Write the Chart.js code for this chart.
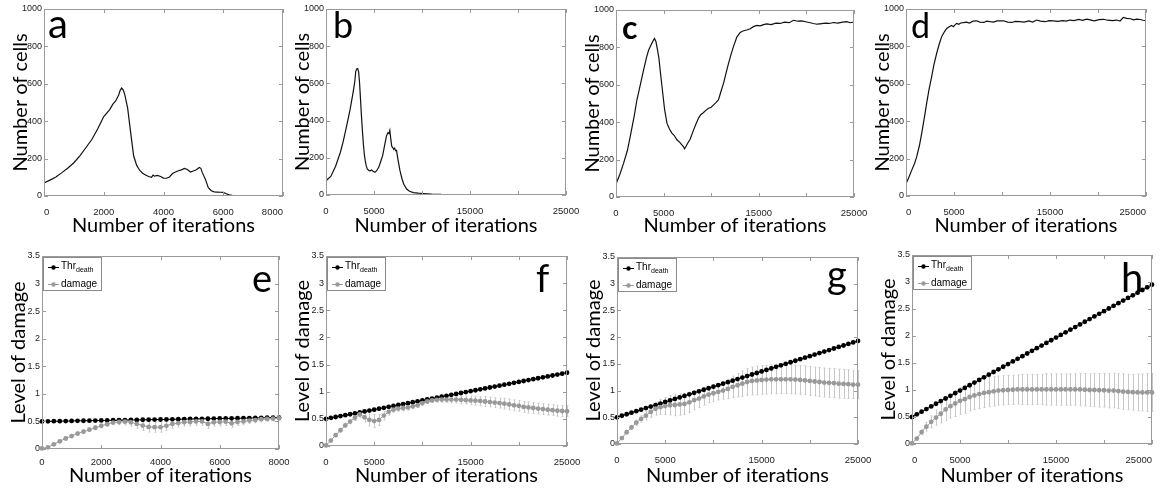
<!DOCTYPE html>
<html lang="en">
<head>
  <meta charset="UTF-8" />
  <title>Number of cells and level of damage</title>
  <script src="https://cdn.jsdelivr.net/npm/chart.js@4"></script>
  <style>
    html, body { margin: 0; background: #fff; overflow: hidden; }
    #fig { position: relative; width: 1161px; height: 497px; overflow: hidden; }
    #fig canvas { position: absolute; }
  </style>
</head>
<body>
  <div id="fig"></div>

  <script>
    // ---- top row: number of cells ----
    const aIter = [0,200,400,600,800,1000,1200,1400,1600,1800,2000,2200,2300,2400,2500,2550,2600,2650,2700,2800,2900,3000,3100,3200,3300,3400,3500,3600,3650,3700,3800,3900,4000,4100,4200,4300,4400,4500,4600,4700,4800,4900,5000,5100,5200,5250,5300,5400,5500,5600,5700,5800,5900,6000,6100,6200,6300,6500,7000,7500,8000];
    const aCells = [70,85,102,125,150,178,215,258,302,360,425,462,490,508,540,565,577,568,545,470,340,215,165,138,122,112,104,100,112,106,110,104,96,95,102,120,128,135,140,147,142,128,134,140,152,148,125,90,45,28,22,21,20,19,12,6,3,2,1,0,0];

    const bIter = [0,500,1000,1500,1800,2100,2500,2850,3000,3100,3200,3300,3400,3500,3600,3700,3800,3900,4000,4100,4200,4300,4450,4600,4750,4900,5100,5300,5500,5700,5900,6100,6300,6450,6550,6650,6750,6850,6950,7050,7150,7250,7350,7450,7550,7700,7900,8100,8400,8700,9100,9600,10100,11000,12000,14000,17000,20000,25000];
    const bCells = [77,100,155,230,290,360,456,560,610,665,678,680,662,600,510,420,340,270,215,180,155,140,132,130,135,128,122,132,150,180,212,265,318,335,330,348,300,262,255,245,252,238,240,205,175,132,90,58,32,20,13,10,8,5,3,2,1,1,0];

    const cIter = [0,400,800,1200,1500,1900,2200,2600,2900,3200,3430,3700,3950,4050,4200,4350,4500,4700,4900,5100,5350,5600,5870,6100,6400,6700,6920,7100,7200,7350,7500,7800,8150,8400,8670,8900,9200,9400,9720,10000,10250,10500,10770,11000,11300,11600,11820,12100,12340,12690,13040,13400,13740,14100,14440,14800,15140,15500,15840,16300,16800,17240,17700,18200,18640,19100,19500,20040,20400,20730,21100,21430,22000,22400,22830,23300,23800,24230,24600,25000];
    const cCells = [70,120,181,250,324,430,520,610,680,745,786,815,840,848,830,790,745,650,560,470,395,365,342,330,306,292,279,268,258,270,285,310,359,390,422,440,452,462,475,480,493,505,520,560,609,670,715,765,804,855,880,889,893,900,911,918,915,922,926,922,930,928,935,932,945,940,942,936,932,928,924,926,930,928,933,930,935,938,932,936];

    const dIter = [0,300,590,900,1110,1400,1630,1900,2150,2400,2670,2900,3190,3450,3715,4000,4240,4500,4750,4930,5100,5280,5500,5700,5970,6300,6600,7000,7360,7700,8100,8400,8750,9100,9500,10140,10600,11000,11400,11875,12300,12800,13200,13610,14000,14500,14900,15350,15800,16300,16700,17080,17500,18000,18400,18820,19200,19600,20100,20560,21000,21500,21940,22300,22640,23000,23400,23700,24030,24400,24700,25000];
    const dCells = [66,100,137,175,209,270,334,415,495,570,637,700,762,810,852,878,896,905,912,905,915,923,918,925,927,930,925,935,937,930,928,935,932,930,936,937,930,928,934,932,930,936,930,941,935,932,938,937,934,938,935,941,938,944,939,946,942,937,943,945,940,938,941,936,955,950,948,942,946,944,940,937];

    // ---- bottom row: level of damage ----
    const iterShort = [0,200,400,600,800,1000,1200,1400,1600,1800,2000,2200,2400,2600,2800,3000,3200,3400,3600,3800,4000,4200,4400,4600,4800,5000,5200,5400,5600,5800,6000,6200,6400,6600,6800,7000,7200,7400,7600,7800,8000];
    const iterLong = [0,500,1000,1500,2000,2500,3000,3500,4000,4500,5000,5500,6000,6500,7000,7500,8000,8500,9000,9500,10000,10500,11000,11500,12000,12500,13000,13500,14000,14500,15000,15500,16000,16500,17000,17500,18000,18500,19000,19500,20000,20500,21000,21500,22000,22500,23000,23500,24000,24500,25000];

    const eThr = [0.500,0.502,0.504,0.505,0.507,0.509,0.511,0.512,0.514,0.516,0.518,0.519,0.521,0.523,0.525,0.526,0.528,0.530,0.532,0.533,0.535,0.537,0.539,0.540,0.542,0.544,0.546,0.547,0.549,0.551,0.553,0.554,0.556,0.558,0.560,0.561,0.563,0.565,0.567,0.568,0.570];
    const eDamage = [0.01,0.03,0.085,0.14,0.19,0.235,0.28,0.315,0.35,0.385,0.42,0.45,0.48,0.49,0.495,0.485,0.455,0.425,0.40,0.395,0.395,0.42,0.455,0.47,0.485,0.49,0.50,0.50,0.455,0.485,0.49,0.495,0.465,0.49,0.50,0.515,0.525,0.54,0.545,0.55,0.56];
    const eSd = [0.01,0.015,0.02,0.025,0.03,0.03,0.03,0.03,0.03,0.035,0.035,0.04,0.04,0.05,0.06,0.07,0.08,0.09,0.09,0.09,0.09,0.08,0.08,0.07,0.07,0.07,0.07,0.07,0.08,0.07,0.07,0.07,0.07,0.06,0.06,0.05,0.05,0.05,0.04,0.04,0.04];

    const fThr = [0.500,0.517,0.534,0.551,0.568,0.585,0.602,0.619,0.636,0.653,0.670,0.687,0.704,0.721,0.738,0.755,0.772,0.789,0.806,0.823,0.840,0.857,0.874,0.891,0.908,0.925,0.942,0.959,0.976,0.993,1.010,1.027,1.044,1.061,1.078,1.095,1.112,1.129,1.146,1.163,1.180,1.197,1.214,1.231,1.248,1.265,1.282,1.299,1.316,1.333,1.350];
    const fDamage = [0.01,0.10,0.20,0.29,0.38,0.45,0.52,0.58,0.53,0.48,0.46,0.48,0.56,0.63,0.67,0.69,0.70,0.71,0.73,0.75,0.79,0.82,0.84,0.85,0.855,0.855,0.855,0.855,0.85,0.845,0.84,0.835,0.83,0.82,0.81,0.80,0.79,0.78,0.765,0.75,0.74,0.72,0.71,0.70,0.69,0.68,0.67,0.66,0.65,0.645,0.64];
    const fSd = [0.01,0.02,0.03,0.03,0.04,0.04,0.05,0.06,0.09,0.11,0.12,0.10,0.08,0.06,0.05,0.05,0.05,0.05,0.04,0.04,0.04,0.04,0.04,0.04,0.05,0.05,0.06,0.06,0.07,0.07,0.08,0.08,0.08,0.09,0.09,0.09,0.09,0.10,0.10,0.10,0.10,0.10,0.10,0.10,0.10,0.10,0.10,0.10,0.10,0.10,0.10];

    const gThr = [0.500,0.529,0.557,0.586,0.614,0.643,0.672,0.700,0.729,0.757,0.786,0.815,0.843,0.872,0.900,0.929,0.958,0.986,1.015,1.043,1.072,1.101,1.129,1.158,1.186,1.215,1.244,1.272,1.301,1.329,1.358,1.387,1.415,1.444,1.472,1.501,1.530,1.558,1.587,1.615,1.644,1.673,1.701,1.730,1.758,1.787,1.816,1.844,1.873,1.901,1.930];
    const gDamage = [0.01,0.11,0.22,0.31,0.40,0.47,0.53,0.60,0.66,0.69,0.71,0.725,0.73,0.74,0.75,0.78,0.82,0.85,0.89,0.925,0.95,0.975,1.00,1.03,1.07,1.10,1.13,1.16,1.18,1.19,1.20,1.205,1.21,1.21,1.21,1.21,1.21,1.205,1.20,1.19,1.18,1.17,1.16,1.15,1.145,1.14,1.13,1.125,1.12,1.11,1.11];
    const gSd = [0.01,0.02,0.03,0.04,0.05,0.06,0.08,0.10,0.12,0.14,0.16,0.18,0.20,0.20,0.20,0.19,0.18,0.17,0.16,0.15,0.15,0.15,0.16,0.18,0.20,0.22,0.24,0.25,0.26,0.27,0.27,0.27,0.27,0.27,0.27,0.27,0.27,0.27,0.27,0.27,0.27,0.27,0.27,0.27,0.27,0.27,0.27,0.27,0.27,0.26,0.26];

    const hThr = [0.500,0.549,0.598,0.647,0.696,0.745,0.794,0.843,0.892,0.941,0.990,1.039,1.088,1.137,1.186,1.235,1.284,1.333,1.382,1.431,1.480,1.529,1.578,1.627,1.676,1.725,1.774,1.823,1.872,1.921,1.970,2.019,2.068,2.117,2.166,2.215,2.264,2.313,2.362,2.411,2.460,2.509,2.558,2.607,2.656,2.705,2.754,2.803,2.852,2.901,2.950];
    const hDamage = [0.01,0.10,0.22,0.32,0.41,0.49,0.56,0.64,0.70,0.75,0.80,0.83,0.87,0.90,0.925,0.945,0.96,0.975,0.99,0.995,1.00,1.005,1.01,1.01,1.01,1.01,1.01,1.01,1.01,1.01,1.01,1.01,1.01,1.01,1.01,1.01,1.005,1.00,1.00,0.995,0.995,0.99,0.99,0.98,0.97,0.965,0.96,0.955,0.955,0.955,0.955];
    const hSd = [0.01,0.03,0.05,0.08,0.11,0.14,0.17,0.20,0.22,0.24,0.25,0.26,0.26,0.26,0.27,0.27,0.27,0.27,0.27,0.27,0.27,0.27,0.27,0.28,0.28,0.28,0.28,0.28,0.29,0.29,0.29,0.29,0.29,0.29,0.29,0.30,0.30,0.30,0.31,0.31,0.31,0.32,0.32,0.32,0.33,0.33,0.33,0.34,0.34,0.35,0.35];

    const cellTicks = [0,200,400,600,800,1000];
    const damageTicks = [0,0.5,1,1.5,2,2.5,3,3.5];
    const shortTicks = [0,2000,4000,6000,8000];
    const longTicks = [0,5000,10000,15000,20000,25000];
    const shortLabels = [0,2000,4000,6000,8000];
    const longLabels = [0,5000,15000,25000];

    const TITLE_FONT = { family: 'Lato', size: 20 };
    const X_TICK_FONT = { family: 'Liberation Sans', size: 9.5 };
    const Y_TICK_FONT = { family: 'Liberation Sans', size: 9 };
    const FRAME = '#9a9a9a';
    const OVERHANG = 14;   // canvases reach a bit past their cell so the last tick label is not cut

    const zip = (xs, ys) => xs.map((x, i) => ({ x, y: ys[i] }));

    function addPanel(p) {
      const [bl, bt, bw, bh] = p.box;
      const [L, T, R, B] = p.area;
      const cv = document.createElement('canvas');
      cv.width = bw + OVERHANG; cv.height = bh;
      cv.style.left = bl + 'px'; cv.style.top = bt + 'px';
      document.getElementById('fig').appendChild(cv);

      const yw = L - bl, xh = bt + bh - B;

      // box + inward tick marks on all four sides, then the panel letter
      const frame = {
        id: 'frame',
        afterDatasetsDraw(chart) {
          const { ctx, chartArea: a, scales: { x, y } } = chart;
          ctx.save();
          ctx.strokeStyle = FRAME; ctx.lineWidth = 1;
          ctx.strokeRect(a.left + 0.5, a.top + 0.5, a.right - a.left - 1, a.bottom - a.top - 1);
          ctx.beginPath();
          x.ticks.forEach(t => {
            const px = Math.round(x.getPixelForValue(t.value)) + 0.5;
            ctx.moveTo(px, a.bottom); ctx.lineTo(px, a.bottom - 4);
            ctx.moveTo(px, a.top); ctx.lineTo(px, a.top + 4);
          });
          y.ticks.forEach(t => {
            const py = Math.round(y.getPixelForValue(t.value)) + 0.5;
            ctx.moveTo(a.left, py); ctx.lineTo(a.left + 4, py);
            ctx.moveTo(a.right, py); ctx.lineTo(a.right - 4, py);
          });
          ctx.stroke();
          ctx.fillStyle = '#000';
          ctx.font = (p.letterBold ? 'bold ' : '') + p.letterSize + 'px Lato';
          ctx.textBaseline = 'alphabetic';
          ctx.fillText(p.letter, p.letterAt[0] - bl, p.letterAt[1] - bt);
          ctx.restore();
        }
      };

      const errBars = {
        id: 'errBars',
        beforeDatasetsDraw(chart) {
          if (!p.sd) return;
          const { ctx, scales: { x, y } } = chart;
          ctx.save();
          ctx.strokeStyle = '#c8c8c8'; ctx.lineWidth = 1;
          ctx.beginPath();
          p.iter.forEach((it, i) => {
            const px = Math.round(x.getPixelForValue(it)) + 0.5;
            const y1 = y.getPixelForValue(p.damage[i] + p.sd[i]);
            const y2 = y.getPixelForValue(p.damage[i] - p.sd[i]);
            ctx.moveTo(px, y1); ctx.lineTo(px, y2);
            ctx.moveTo(px - 1, y1); ctx.lineTo(px + 1, y1);
            ctx.moveTo(px - 1, y2); ctx.lineTo(px + 1, y2);
          });
          ctx.stroke();
          ctx.restore();
        }
      };

      const keyBox = {
        id: 'keyBox',
        afterDraw(chart) {
          if (!p.sd) return;
          const { ctx, chartArea: a } = chart;
          const x0 = a.left + 1, y0 = a.top + 1;
          ctx.save();
          ctx.fillStyle = '#fff';
          ctx.fillRect(x0, y0, 58, 33);
          ctx.strokeStyle = '#8a8a8a'; ctx.lineWidth = 1;
          ctx.strokeRect(x0 + 0.5, y0 + 0.5, 58, 33);
          const rows = [['#000', 10], ['#999', 27]];
          rows.forEach(([col, dy]) => {
            ctx.strokeStyle = col; ctx.fillStyle = col;
            ctx.beginPath(); ctx.moveTo(x0 + 5, y0 + dy + 0.5); ctx.lineTo(x0 + 16, y0 + dy + 0.5); ctx.stroke();
            ctx.beginPath(); ctx.arc(x0 + 10.5, y0 + dy + 0.5, 2.2, 0, Math.PI * 2); ctx.fill();
          });
          ctx.fillStyle = '#000';
          ctx.textBaseline = 'middle';
          ctx.font = '10px "Liberation Sans"';
          ctx.fillText('Thr', x0 + 18, y0 + 9);
          const w = ctx.measureText('Thr').width;
          ctx.font = '7px "Liberation Sans"';
          ctx.fillText('death', x0 + 18 + w, y0 + 13);
          ctx.font = '10px "Liberation Sans"';
          ctx.fillText('damage', x0 + 18, y0 + 27);
          ctx.restore();
        }
      };

      const datasets = p.sd ? [
        { data: zip(p.iter, p.damage), borderColor: '#999', backgroundColor: '#999', borderWidth: 1,
          pointRadius: 2.4, pointBorderWidth: 0, pointBackgroundColor: '#999', clip: 3 },
        { data: zip(p.iter, p.thr), borderColor: '#000', backgroundColor: '#000', borderWidth: 1,
          pointRadius: 2.4, pointBorderWidth: 0, pointBackgroundColor: '#000', clip: 3 }
      ] : [
        { data: zip(p.iter, p.cells), borderColor: '#111', borderWidth: 1.2, pointRadius: 0 }
      ];

      new Chart(cv, {
        type: 'line',
        data: { datasets },
        plugins: [errBars, frame, keyBox],
        options: {
          responsive: false,
          animation: false,
          events: [],
          layout: { padding: { left: 0, top: T - bt, right: bl + bw + OVERHANG - R, bottom: 0 } },
          plugins: { legend: { display: false }, tooltip: { enabled: false } },
          scales: {
            x: {
              type: 'linear', min: 0, max: p.xmax,
              afterBuildTicks: s => { s.ticks = p.xTicks.map(v => ({ value: v })); },
              grid: { display: false, drawTicks: false }, border: { display: false },
              ticks: {
                font: X_TICK_FONT, color: '#222', padding: p.xPad, maxRotation: 0, autoSkip: false,
                align: p.xAlign || 'center',
                callback: v => p.xLabels.includes(v) ? String(v) : ''
              },
              title: { display: true, text: 'Number of iterations', font: TITLE_FONT, color: '#000',
                       padding: { top: 0, bottom: p.xTitlePad } },
              afterFit: s => { s.height = xh; s.paddingLeft = 0; s.paddingRight = 0; }
            },
            y: {
              min: 0, max: p.ymax,
              afterBuildTicks: s => { s.ticks = p.yTicks.map(v => ({ value: v })); },
              grid: { display: false, drawTicks: false }, border: { display: false },
              ticks: { font: Y_TICK_FONT, color: '#222', padding: 2, callback: v => String(v) },
              title: { display: true, text: p.yTitle, font: TITLE_FONT, color: '#000',
                       padding: { top: yw - 35, bottom: 0 } },
              afterFit: s => { s.width = yw; s.paddingTop = 0; s.paddingBottom = 0; }
            }
          }
        }
      });
    }

    const topRow = { ymax: 1000, yTicks: cellTicks, yTitle: 'Number of cells', xPad: 11, xTitlePad: 12 };
    const botRow = { ymax: 3.5, yTicks: damageTicks, yTitle: 'Level of damage', xPad: 11, xTitlePad: 9 };

    addPanel({ ...topRow, box: [0, 0, 290, 250], area: [44, 9, 283, 196], xmax: 8000, xTicks: shortTicks, xLabels: shortLabels,
               xAlign: 'inner', iter: aIter, cells: aCells, letter: 'a', letterAt: [48, 38], letterSize: 40 });
    addPanel({ ...topRow, box: [290, 0, 290, 250], area: [326, 9, 566, 195], xmax: 25000, xTicks: longTicks, xLabels: longLabels,
               iter: bIter, cells: bCells, letter: 'b', letterAt: [333, 38], letterSize: 36 });
    addPanel({ ...topRow, box: [580, 0, 290, 250], area: [616, 10, 854, 197], xmax: 25000, xTicks: longTicks, xLabels: longLabels,
               iter: cIter, cells: cCells, letter: 'c', letterAt: [622, 39], letterSize: 32, letterBold: true });
    addPanel({ ...topRow, box: [870, 0, 291, 250], area: [906, 9, 1146, 196], xmax: 25000, xTicks: longTicks, xLabels: longLabels,
               xAlign: 'inner', iter: dIter, cells: dCells, letter: 'd', letterAt: [911, 38], letterSize: 34 });

    addPanel({ ...botRow, box: [0, 250, 290, 247], area: [42, 256, 279, 449], xmax: 8000, xTicks: shortTicks, xLabels: shortLabels,
               xPad: 8, iter: iterShort, thr: eThr, damage: eDamage, sd: eSd, letter: 'e', letterAt: [252, 292], letterSize: 38 });
    addPanel({ ...botRow, box: [290, 250, 290, 247], area: [326, 256, 567, 446], xmax: 25000, xTicks: longTicks, xLabels: longLabels,
               iter: iterLong, thr: fThr, damage: fDamage, sd: fSd, letter: 'f', letterAt: [536, 292], letterSize: 38 });
    addPanel({ ...botRow, box: [580, 250, 290, 247], area: [617, 257, 858, 444], xmax: 25000, xTicks: longTicks, xLabels: longLabels,
               iter: iterLong, thr: gThr, damage: gDamage, sd: gSd, letter: 'g', letterAt: [827, 288], letterSize: 38 });
    addPanel({ ...botRow, box: [870, 250, 291, 247], area: [912, 255, 1152, 444], xmax: 25000, xTicks: longTicks, xLabels: longLabels,
               xAlign: 'inner', iter: iterLong, thr: hThr, damage: hDamage, sd: hSd, letter: 'h', letterAt: [1121, 292], letterSize: 40 });
  </script>
</body>
</html>
